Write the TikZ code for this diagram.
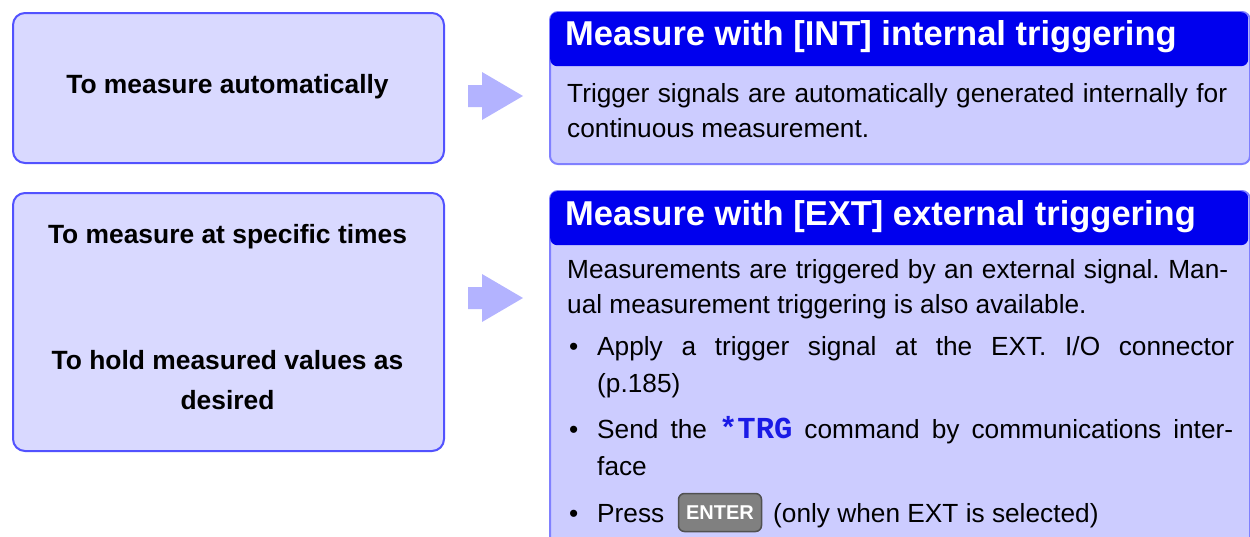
\documentclass[tikz,border=0pt]{standalone}
\usepackage{fontspec}
\setmainfont{Liberation Sans}
\setmonofont{Liberation Mono}
\definecolor{leftfill}{HTML}{D9D9FF}
\definecolor{leftborder}{HTML}{5252FF}
\definecolor{rightfill}{HTML}{CCCCFF}
\definecolor{rightborder}{HTML}{8080FF}
\definecolor{headfill}{HTML}{0000EE}
\definecolor{arrowfill}{HTML}{B3B3FF}
\definecolor{trgblue}{HTML}{1A1AE6}
\definecolor{keyfill}{HTML}{808080}
\definecolor{keyborder}{HTML}{505050}
\newcommand{\lefttxtfont}{\fontsize{26.4}{40}\selectfont\bfseries}
\newcommand{\headtxtfont}{\fontsize{34.5}{40}\selectfont\bfseries}
\newcommand{\bodytxtfont}{\fontsize{26.25}{35}\selectfont}
\newcommand{\jline}[2]{\hbox to #1{\spaceskip=0.25em plus 1fil minus 0.06em\relax\xspaceskip=\spaceskip #2}}
\begin{document}
\begin{tikzpicture}[x=1pt,y=-1pt,
  leftbox/.style={draw=leftborder, fill=leftfill, line width=2pt, rounded corners=12pt, anchor=north west, inner sep=0pt},
  shadowbox/.style={fill=black!18, rounded corners=12pt, anchor=north west, inner sep=0pt},
  rightbox/.style={draw=rightborder, fill=rightfill, line width=2pt, rounded corners=8pt, anchor=north west, inner sep=0pt},
  headbox/.style={fill=headfill, rounded corners=7pt, anchor=north west, inner sep=0pt},
  lefttext/.style={font=\lefttxtfont, anchor=base, inner sep=0pt},
  headtext/.style={font=\headtxtfont, text=white, anchor=base west, inner sep=0pt},
  bodytext/.style={font=\bodytxtfont, anchor=base west, inner sep=0pt},
  blockarrow/.style={fill=arrowfill},
  keybox/.style={draw=keyborder, fill=keyfill, line width=1.5pt, rounded corners=6pt, text=white, font=\fontsize{20}{20}\selectfont\bfseries, inner sep=0pt, minimum width=83pt, minimum height=38pt}
]
\useasboundingbox (0,0) rectangle (1250,536);
\clip (0,0) rectangle (1250,536);

% left boxes
\node[shadowbox, minimum width=431pt, minimum height=150pt] (s1) at (13.5,13.5) {};
\node[leftbox, minimum width=431pt, minimum height=150pt] (q1) at (12,12) {};
\node[shadowbox, minimum width=431pt, minimum height=258pt] (s2) at (13.5,193.5) {};
\node[leftbox, minimum width=431pt, minimum height=258pt] (q2) at (12,192) {};

\node[lefttext] (q1t) at (227.5,93) {To measure automatically};
\node[lefttext] (q2t) at (227.5,243.5) {To measure at specific times};
\node[lefttext] (q2u) at (227.5,369) {To hold measured values as};
\node[lefttext] (q2v) at (227.5,409) {desired};

% block arrows
\fill[blockarrow] (468,85) -- (482,85) -- (482,72) -- (523,96) -- (482,120) -- (482,107) -- (468,107) -- cycle;
\fill[blockarrow] (468,287) -- (482,287) -- (482,274) -- (523,298) -- (482,322) -- (482,309) -- (468,309) -- cycle;

% right box 1
\node[rightbox, minimum width=700pt, minimum height=152pt] (r1) at (549,11) {};
\node[headbox, minimum width=698pt, minimum height=54pt] (h1) at (550,12) {};
\node[headtext] (h1t) at (565,45) {Measure with [INT] internal triggering};
\node[bodytext] (b1a) at (567,102) {\jline{660pt}{Trigger signals are automatically generated internally for}};
\node[bodytext] (b1b) at (567,137) {continuous measurement.};

% right box 2
\node[rightbox, minimum width=700pt, minimum height=380pt] (r2) at (549,190) {};
\node[headbox, minimum width=698pt, minimum height=54pt] (h2) at (550,191) {};
\node[headtext] (h2t) at (565,225) {Measure with [EXT] external triggering};
\node[bodytext] (b2a) at (567,278) {\jline{661pt}{Measurements are triggered by an external signal. Man-}};
\node[bodytext] (b2b) at (567,313) {ual measurement triggering is also available.};

\node[bodytext] (d1) at (569,355) {•};
\node[bodytext] (i1a) at (597,355) {\jline{637pt}{Apply a trigger signal at the EXT. I/O connector}};
\node[bodytext] (i1b) at (597,392) {(p.185)};
\node[bodytext] (d2) at (569,438) {•};
\node[bodytext] (i2a) at (597,438) {\jline{636pt}{Send the {\fontsize{30.5}{30}\selectfont\ttfamily\bfseries\color{trgblue}*TRG} command by communications inter-}};
\node[bodytext] (i2b) at (597,475) {face};
\node[bodytext] (d3) at (569,522) {•};
\node[bodytext] (i3a) at (597,522) {Press};
\node[keybox] (key) at (720,512.5) {ENTER};
\node[bodytext] (i3b) at (773,522) {(only when EXT is selected)};
\end{tikzpicture}
\end{document}
